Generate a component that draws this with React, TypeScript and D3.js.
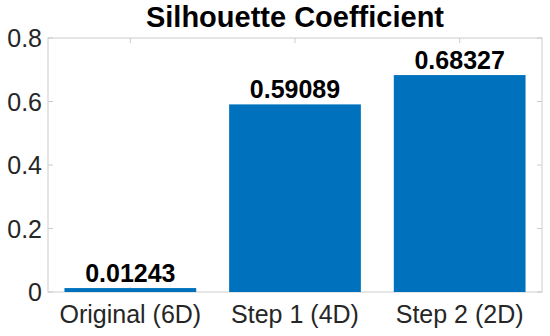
import React from "react";
import * as d3 from "d3";

const categories = ["Original (6D)", "Step 1 (4D)", "Step 2 (2D)"];
const values = [0.01243, 0.59089, 0.68327];
const valueLabels = ["0.01243", "0.59089", "0.68327"];
const yTicks = [0, 0.2, 0.4, 0.6, 0.8];
const yTickLabels = ["0", "0.2", "0.4", "0.6", "0.8"];

export default function App() {
  const width = 550, height = 336;
  const margin = { top: 38, right: 8, bottom: 44, left: 48 };
  const w = width - margin.left - margin.right;
  const h = height - margin.top - margin.bottom;

  const x = d3.scaleBand<string>().domain(categories).range([0, w]).paddingInner(0.2).paddingOuter(0.1);
  const y = d3.scaleLinear().domain([0, 0.8]).range([h, 0]);

  const font = "'Liberation Sans', Arial, Helvetica, sans-serif";
  const boxColor = "#cccccc";
  const tickLen = 5;

  return (
    <svg width={width} height={height} style={{ position: "absolute", left: 0, top: 0 }} fontFamily={font}>
      <rect width={width} height={height} fill="#ffffff" />
      <text x={margin.left + w / 2} y={27} textAnchor="middle" fontSize={29} fontWeight="bold" fill="#000">
        Silhouette Coefficient
      </text>
      <g transform={`translate(${margin.left},${margin.top})`}>
        <rect x={0} y={0} width={w} height={h} fill="none" stroke={boxColor} strokeWidth={1} />
        {yTicks.map((t, i) => (
          <g key={i}>
            <line x1={0} x2={tickLen} y1={y(t)} y2={y(t)} stroke={boxColor} />
            <line x1={w - tickLen} x2={w} y1={y(t)} y2={y(t)} stroke={boxColor} />
            <text x={-6} y={y(t)} dy="0.36em" textAnchor="end" fontSize={25} fill="#262626">
              {yTickLabels[i]}
            </text>
          </g>
        ))}
        {categories.map((c, i) => {
          const cx = (x(c) as number) + x.bandwidth() / 2;
          return (
            <g key={c}>
              <line x1={cx} x2={cx} y1={h} y2={h - tickLen} stroke={boxColor} />
              <line x1={cx} x2={cx} y1={0} y2={tickLen} stroke={boxColor} />
              <rect x={x(c)} y={y(values[i])} width={x.bandwidth()} height={h - y(values[i])} fill="#0072BD" />
              <text x={cx} y={y(values[i]) - 6} textAnchor="middle" fontSize={25} fontWeight="bold" fill="#000">
                {valueLabels[i]}
              </text>
              <text x={cx} y={h + 31} textAnchor="middle" fontSize={25} fill="#262626">
                {c}
              </text>
            </g>
          );
        })}
      </g>
    </svg>
  );
}
